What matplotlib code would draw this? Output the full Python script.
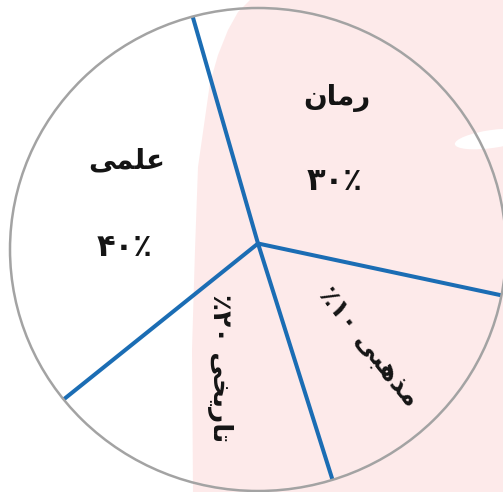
import numpy as np
import matplotlib.pyplot as plt
from matplotlib.patches import Ellipse, Polygon

# slice sizes as drawn in the picture (percent of the circle), counter-clockwise from the bottom line
sizes = [16.8, 32.8, 31.3, 19.1]
start_angle = -72.5
# labels, written in visual order with Arabic presentation forms (matplotlib has no shaping)
labels = ["\u066A\u06F1\u06F0 \uFEF0\uFE92\uFEEB\uFEAC\uFEE3",   # مذهبی ۱۰٪
          "\uFEE5\uFE8E\uFEE3\uFEAD",                              # رمان
          "\uFEF0\uFEE4\uFEE0\uFECB",                              # علمی
          "\u066A\u06F2\u06F0 \uFEF0\uFEA8\uFEF3\uFEAD\uFE8E\uFE97"]  # تاریخی ۲۰٪
percents = ["", "\u06F3\u06F0\u066A", "\u06F4\u06F0\u066A", ""]

W, H = 503, 492
blue = "#1b6db4"
grey = "#a3a3a3"
pink = "#fdeaea"

fig = plt.figure(figsize=(W / 100, H / 100), dpi=100)
ax = fig.add_axes([0, 0, 1, 1])

# faint pink shape behind the chart
edge_x = [250, 238, 228, 218, 210, 198, 195, 192, 193]
edge_y = [0, 12, 30, 55, 83, 167, 250, 350, 492]
pts = [(520, H + 10)] + [(x, H - y) for x, y in zip(edge_x, edge_y)] + [(520, -10)]
ax.add_patch(Polygon(pts, closed=True, facecolor=pink, edgecolor="none", zorder=0))
ax.add_patch(Ellipse((492, H - 139), 75, 18, angle=8, facecolor="white", edgecolor="none", zorder=0.5))

# outer circle (slightly wider than tall in the picture)
cx, cy = 258, H - 249.5
rx, ry = 248, 241.5
ax.add_patch(Ellipse((cx, cy), 2 * rx, 2 * ry, facecolor="none", edgecolor=grey, linewidth=1.8, zorder=3))

# radial lines from the (slightly off-centre) vertex out to the circle
vx, vy = 258, H - 243.5
bounds = start_angle + 3.6 * np.cumsum([0] + sizes[:-1])
for a in np.radians(bounds):
    dx, dy = np.cos(a), np.sin(a)
    # solve ((vx + t dx - cx)/rx)^2 + ((vy + t dy - cy)/ry)^2 = 1 for t > 0
    px, py = (vx - cx) / rx, (vy - cy) / ry
    qx, qy = dx / rx, dy / ry
    A = qx ** 2 + qy ** 2
    B = 2 * (px * qx + py * qy)
    C = px ** 2 + py ** 2 - 1
    t = (-B + np.sqrt(B ** 2 - 4 * A * C)) / (2 * A)
    ax.plot([vx, vx + t * dx], [vy, vy + t * dy], color=blue, linewidth=2.9,
            solid_capstyle="butt", zorder=2)

txt = dict(family=["DejaVu Sans"], fontweight="bold", color="#141414", ha="center", va="center", zorder=4)
ax.text(337, H - 98, labels[1], fontsize=20, **txt)
ax.text(335, H - 182, percents[1], fontsize=22, **txt)
ax.text(127, H - 160, labels[2], fontsize=20, **txt)
ax.text(125, H - 247, percents[2], fontsize=22, **txt)
ax.text(220, H - 368, labels[3], fontsize=19, rotation=-90, rotation_mode="anchor", **txt)
ax.text(368, H - 347, labels[0], fontsize=19, rotation=-51.5, rotation_mode="anchor", **txt)

ax.set_xlim(0, W)
ax.set_ylim(0, H)
ax.axis("off")

fig.savefig("out.png", dpi=100)
